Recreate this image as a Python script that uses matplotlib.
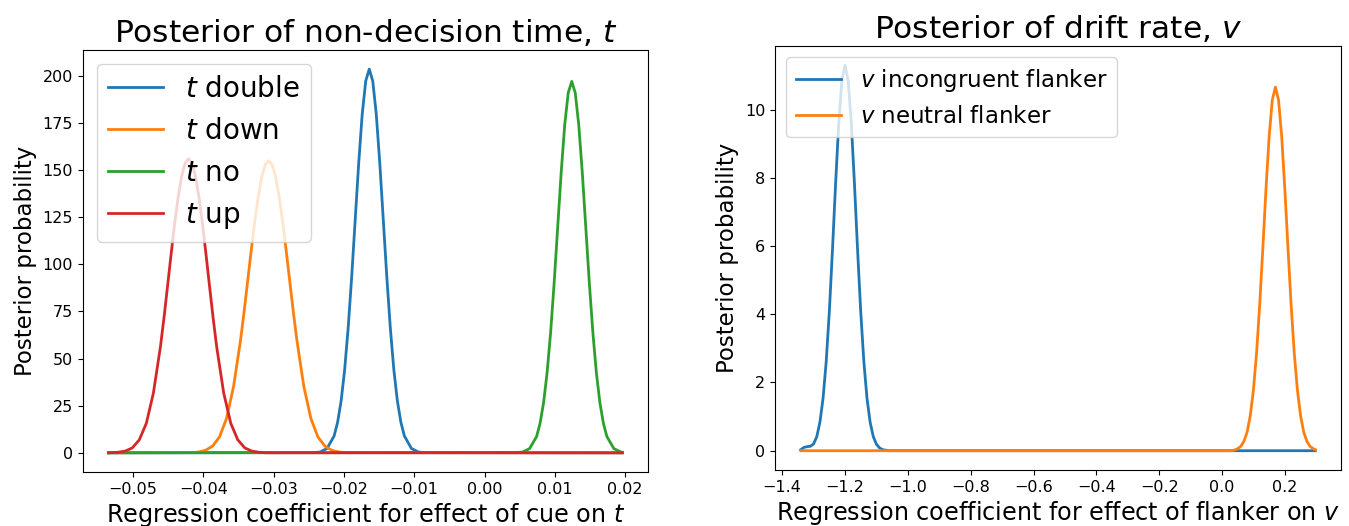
import matplotlib
matplotlib.use('Agg')
import matplotlib.pyplot as plt
from matplotlib.ticker import MultipleLocator

# ---- left panel: posterior of non-decision time t
t_double_x = [-0.0535, -0.0244, -0.0234, -0.0224, -0.0214, -0.0209, -0.0204, -0.0199, -0.0194,
              -0.0189, -0.0184, -0.0179, -0.0174, -0.0169, -0.0164, -0.0159, -0.0154, -0.0149,
              -0.0144, -0.0139, -0.0134, -0.0129, -0.0124, -0.0119, -0.0114, -0.0104, -0.0094,
              -0.0084, 0.0196]
t_double_y = [0, 0.1, 0.4, 2.3, 8.9, 16.2, 27.5, 44.0, 66.1,
              93.2, 123.4, 153.6, 179.6, 197.2, 203.5, 197.2, 179.6, 153.6,
              123.4, 93.2, 66.1, 44.0, 27.5, 16.2, 8.9, 2.3, 0.4,
              0.1, 0]

t_down_x = [-0.0535, -0.0417, -0.0407, -0.0397, -0.0387, -0.0377, -0.0367, -0.0357, -0.0347,
            -0.0342, -0.0337, -0.0332, -0.0327, -0.0322, -0.0317, -0.0312, -0.0307, -0.0302,
            -0.0297, -0.0292, -0.0287, -0.0282, -0.0277, -0.0272, -0.0267, -0.0257, -0.0247,
            -0.0237, -0.0227, -0.0217, -0.0207, -0.0197, 0.0196]
t_down_y = [0, 0.1, 0.4, 1.3, 3.5, 8.4, 18.2, 35.1, 59.9,
            74.8, 90.8, 106.9, 122.2, 135.6, 146.1, 152.7, 155.0, 152.7,
            146.1, 135.6, 122.2, 106.9, 90.8, 74.8, 59.9, 35.1, 18.2,
            8.4, 3.5, 1.3, 0.4, 0.1, 0]

t_no_x = [-0.0535, 0.0044, 0.0054, 0.0064, 0.0074, 0.0079, 0.0084, 0.0089, 0.0094, 0.0099,
          0.0104, 0.0109, 0.0114, 0.0119, 0.0124, 0.0129, 0.0134, 0.0139, 0.0144, 0.0149,
          0.0154, 0.0159, 0.0164, 0.0169, 0.0174, 0.0184, 0.0194, 0.0196]
t_no_y = [0, 0.1, 0.4, 2.2, 8.6, 15.7, 26.7, 42.6, 64.0, 90.2,
          119.5, 148.7, 173.9, 190.9, 197.0, 190.9, 173.9, 148.7, 119.5, 90.2,
          64.0, 42.6, 26.7, 15.7, 8.6, 2.2, 0.4, 0.3]

t_up_x = [-0.0535, -0.0521, -0.0511, -0.0501, -0.0491, -0.0481, -0.0471, -0.0461, -0.0456,
          -0.0451, -0.0446, -0.0441, -0.0436, -0.0431, -0.0426, -0.0421, -0.0416, -0.0411,
          -0.0406, -0.0401, -0.0396, -0.0391, -0.0386, -0.0381, -0.0371, -0.0361, -0.0351,
          -0.0341, -0.0331, -0.0321, -0.0311, 0.0196]
t_up_y = [0, 0.3, 0.9, 2.6, 6.9, 15.7, 31.7, 56.2, 71.4,
          87.9, 104.7, 120.9, 135.1, 146.4, 153.5, 156.0, 153.5, 146.4,
          135.1, 120.9, 104.7, 87.9, 71.4, 56.2, 31.7, 15.7, 6.9,
          2.6, 0.9, 0.3, 0, 0]

# ---- right panel: posterior of drift rate v
v_incong_x = [-1.341, -1.33, -1.32, -1.31, -1.30, -1.29, -1.28, -1.27, -1.26, -1.25, -1.24,
              -1.23, -1.22, -1.21, -1.20, -1.19, -1.18, -1.17, -1.16, -1.15, -1.14, -1.13,
              -1.12, -1.11, -1.10, -1.09, -1.08, -1.06, 0.297]
v_incong_y = [0.03, 0.1, 0.12, 0.13, 0.2, 0.41, 0.83, 1.53, 2.60, 4.07, 5.88,
              7.83, 9.60, 10.85, 11.3, 10.85, 9.60, 7.83, 5.88, 4.07, 2.60, 1.53,
              0.83, 0.41, 0.19, 0.08, 0.03, 0, 0]

v_neutral_x = [-1.341, 0.03, 0.04, 0.05, 0.06, 0.07, 0.08, 0.09, 0.10, 0.11, 0.12, 0.13, 0.14,
               0.15, 0.16, 0.17, 0.18, 0.19, 0.20, 0.21, 0.22, 0.23, 0.24, 0.25, 0.26,
               0.27, 0.28, 0.29, 0.297]
v_neutral_y = [0, 0, 0.02, 0.06, 0.13, 0.28, 0.55, 1.03, 1.78, 2.86, 4.28, 5.94, 7.67,
               9.21, 10.28, 10.66, 10.28, 9.21, 7.67, 5.94, 4.28, 2.86, 1.78, 1.03, 0.55,
               0.28, 0.13, 0.06, 0.03]

fig = plt.figure(figsize=(13.49, 5.26), dpi=100)

ax1 = fig.add_axes([0.0613, 0.1027, 0.4191, 0.8023])
ax1.plot(t_double_x, t_double_y, lw=2, label='$t$ double')
ax1.plot(t_down_x, t_down_y, lw=2, label='$t$ down')
ax1.plot(t_no_x, t_no_y, lw=2, label='$t$ no')
ax1.plot(t_up_x, t_up_y, lw=2, label='$t$ up')
ax1.set_title('Posterior of non-decision time, $t$', fontsize=22.5)
ax1.set_xlabel('Regression coefficient for effect of cue on $t$', fontsize=17.2, labelpad=3)
ax1.set_ylabel('Posterior probability', fontsize=16.5)
ax1.tick_params(labelsize=11.5)
ax1.legend(loc='upper left', fontsize=20)

ax2 = fig.add_axes([0.5745, 0.1065, 0.4196, 0.806])
ax2.plot(v_incong_x, v_incong_y, lw=2, label='$v$ incongruent flanker')
ax2.plot(v_neutral_x, v_neutral_y, lw=2, label='$v$ neutral flanker')
ax2.xaxis.set_major_locator(MultipleLocator(0.2))
ax2.set_title('Posterior of drift rate, $v$', fontsize=22.5)
ax2.set_xlabel('Regression coefficient for effect of flanker on $v$', fontsize=17.2, labelpad=3)
ax2.set_ylabel('Posterior probability', fontsize=16.5)
ax2.tick_params(labelsize=11.5)
ax2.legend(loc='upper left', fontsize=16.5)

fig.savefig('out.png', dpi=100)
